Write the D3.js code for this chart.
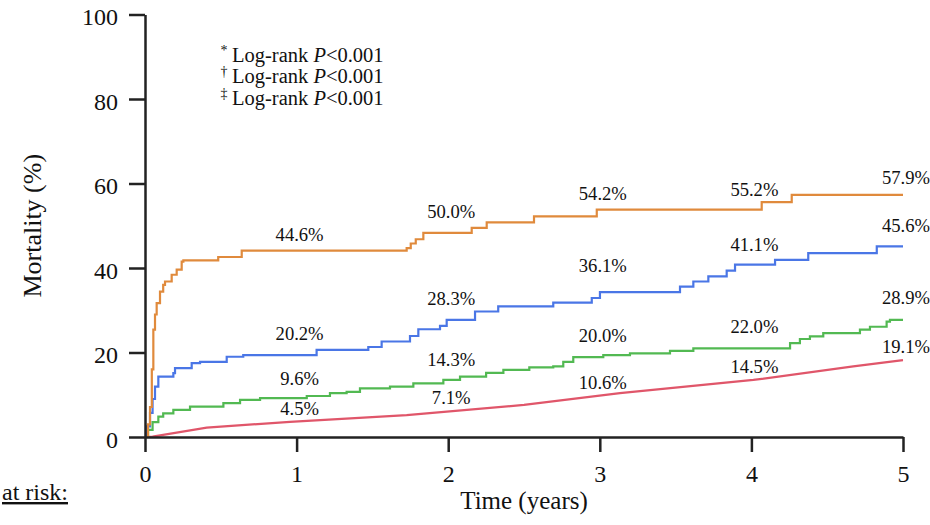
<!DOCTYPE html>
<html>
<head>
<meta charset="utf-8">
<script src="https://cdn.jsdelivr.net/npm/d3@7"></script>
<style>
  body { margin: 0; background: #fff; }
  svg text { font-family: "Liberation Serif", "Times New Roman", serif; fill: #111; }
</style>
</head>
<body>
<div id="graph"></div>
<script>
// step points [years, mortality %]
const orangeCurve = [[0,0],[0.02,3],[0.033,7.1],[0.045,16],[0.055,25.4],[0.066,29],[0.077,31.7],
  [0.099,34.4],[0.12,36],[0.132,36.8],[0.176,38.4],[0.209,39.6],[0.242,41.5],[0.253,41.8],
  [0.483,42.6],[0.638,44.1],[1.726,44.7],[1.753,45.8],[1.786,46.8],[1.836,48.3],[2.155,49.5],
  [2.254,50.8],[2.566,52.2],[2.98,53.8],[4.068,55.6],[4.266,57.3],[5,57.3]];
const blueCurve = [[0,0],[0.01,2.5],[0.033,5.7],[0.05,9],[0.066,11.9],[0.088,14.3],[0.187,15.1],
  [0.198,16.3],[0.308,17.5],[0.363,17.8],[0.539,19.0],[0.648,19.4],[1.132,20.6],[1.473,21.3],
  [1.561,22.6],[1.748,23.9],[1.803,25.5],[1.946,26.3],[1.99,27.7],[2.177,29.7],[2.33,30.9],
  [2.693,31.8],[2.947,32.9],[3.001,34.3],[3.529,35.6],[3.617,36.8],[3.716,38.0],[3.837,39.4],
  [3.892,40.8],[4.156,41.9],[4.375,43.5],[4.827,45.1],[5,45.1]];
const greenCurve = [[0,0],[0.02,1.7],[0.05,3.5],[0.088,4.8],[0.12,5.6],[0.187,6.4],[0.297,7.2],
  [0.517,8.0],[0.627,8.8],[0.759,9.2],[1.067,9.7],[1.22,10.4],[1.33,10.7],[1.418,11.5],
  [1.616,11.9],[1.77,12.7],[1.968,13.5],[2.078,14.3],[2.25,15.2],[2.364,15.9],[2.535,16.5],
  [2.693,16.7],[2.759,17.8],[2.825,18.9],[3.023,19.4],[3.199,19.8],[3.463,20.4],[3.617,21.0],
  [4.255,22.2],[4.32,23.2],[4.386,23.8],[4.474,24.6],[4.716,25.4],[4.782,26.1],[4.892,27.3],
  [4.914,27.7],[5,27.7]];
const redCurve = [[0,0],[0.05,0.1],[0.407,2.2],[0.956,3.6],[1.726,5.2],[2.5,7.6],[3.133,10.4],
  [4.013,13.5],[4.672,16.7],[5,18.2]];

// printed percentages at each year
const labelYears = [1, 2, 3, 4, 5];
const orangeLabels = [44.6, 50.0, 54.2, 55.2, 57.9];
const blueLabels = [20.2, 28.3, 36.1, 41.1, 45.6];
const greenLabels = [9.6, 14.3, 20.0, 22.0, 28.9];
const redLabels = [4.5, 7.1, 10.6, 14.5, 19.1];

const xTicks = [0, 1, 2, 3, 4, 5];
const yTicks = [0, 20, 40, 60, 80, 100];
const legendMarks = ["*", "\u2020", "\u2021"];

// canvas
const width = 930, height = 525;
const margin = {top: 14.5, right: 27, bottom: 88, left: 145};
const serif = "'Liberation Serif', 'Times New Roman', serif";

const svg = d3.select("#graph").append("svg")
  .attr("width", width)
  .attr("height", height);

const xScale = d3.scaleLinear().domain([0, 5]).range([margin.left, width - margin.right]);
const yScale = d3.scaleLinear().domain([0, 100]).range([height - margin.bottom, margin.top]);

// curves
const series = [
  {data: redCurve, labels: redLabels, color: "#e0566a", step: false, lift: 3},
  {data: greenCurve, labels: greenLabels, color: "#52b952", step: true, lift: 11},
  {data: blueCurve, labels: blueLabels, color: "#4a76e6", step: true, lift: 12},
  {data: orangeCurve, labels: orangeLabels, color: "#e08a3c", step: true, lift: 8}
];

series.forEach(s => {
  const line = d3.line()
    .x(d => xScale(d[0]))
    .y(d => yScale(d[1]))
    .curve(s.step ? d3.curveStepAfter : d3.curveLinear);
  svg.append("path")
    .datum(s.data)
    .attr("fill", "none")
    .attr("stroke", s.color)
    .attr("stroke-width", 2.2)
    .attr("d", line);

  svg.selectAll(null)
    .data(s.labels)
    .enter().append("text")
    .attr("x", (d, i) => xScale(labelYears[i]) + 3)
    .attr("y", d => yScale(d) - s.lift)
    .attr("text-anchor", "middle")
    .attr("font-family", serif)
    .attr("font-size", 18.6)
    .text(d => d.toFixed(1) + "%");
});

// axes
const xAxis = svg.append("g")
  .attr("transform", "translate(0," + yScale(0) + ")")
  .call(d3.axisBottom(xScale).tickValues(xTicks).tickFormat(d3.format("d"))
    .tickSize(15).tickSizeOuter(0).tickPadding(13));
const yAxis = svg.append("g")
  .attr("transform", "translate(" + xScale(0) + ",0)")
  .call(d3.axisLeft(yScale).tickValues(yTicks).tickSize(16).tickSizeOuter(0).tickPadding(11));

[xAxis, yAxis].forEach(g => {
  g.attr("font-family", serif).attr("font-size", 24);
  g.selectAll("path, line").attr("stroke", "#222").attr("stroke-width", 2.5);
  g.selectAll("text").attr("fill", "#111");
});
yAxis.selectAll("text").attr("dy", "0.42em");

// titles
svg.append("text")
  .attr("x", xScale(2.5))
  .attr("y", 509)
  .attr("text-anchor", "middle")
  .attr("font-family", serif)
  .attr("font-size", 25)
  .text("Time (years)");

svg.append("text")
  .attr("transform", "translate(41," + yScale(50) + ") rotate(-90)")
  .attr("text-anchor", "middle")
  .attr("font-family", serif)
  .attr("font-size", 26)
  .text("Mortality (%)");

svg.append("text")
  .attr("x", 2)
  .attr("y", 500)
  .attr("font-family", serif)
  .attr("font-size", 24)
  .style("text-decoration", "underline")
  .text("at risk:");

// log-rank notes
const legend = svg.append("g").attr("font-family", serif);
legendMarks.forEach((m, i) => {
  const yy = 61.7 + i * 21.7;
  legend.append("text")
    .attr("x", 224)
    .attr("y", yy - 7)
    .attr("text-anchor", "middle")
    .attr("font-size", 14)
    .text(m);
  const t = legend.append("text")
    .attr("x", 232)
    .attr("y", yy)
    .attr("font-size", 20.5);
  t.append("tspan").text("Log-rank ");
  t.append("tspan").style("font-style", "italic").text("P");
  t.append("tspan").text("<0.001");
});
</script>
</body>
</html>
